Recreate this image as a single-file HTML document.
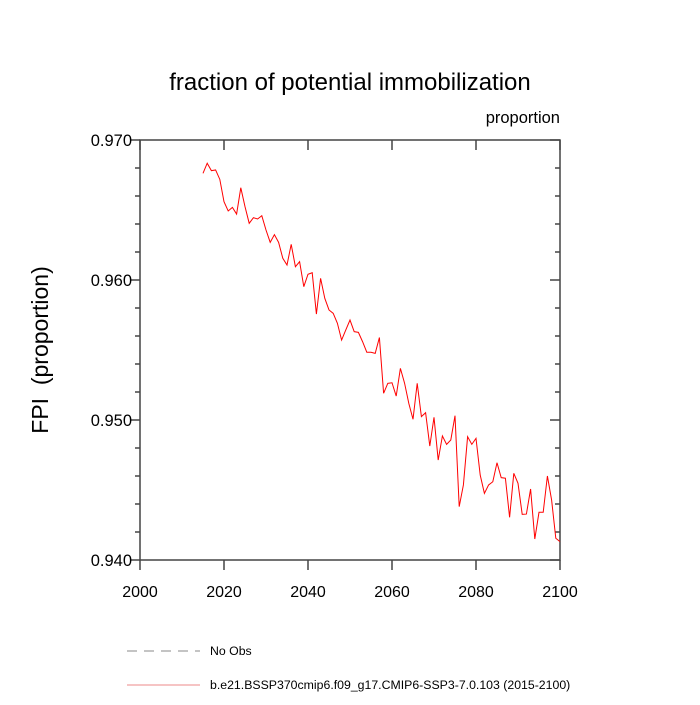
<!DOCTYPE html>
<html><head><meta charset="utf-8"><style>
body{margin:0;background:#fff;font-family:"Liberation Sans",sans-serif}
</style></head><body>
<svg width="700" height="700" xmlns="http://www.w3.org/2000/svg" font-family="Liberation Sans, sans-serif">
<text x="350" y="90" text-anchor="middle" font-size="24">fraction of potential immobilization</text>
<text x="560" y="123" text-anchor="end" font-size="16.5">proportion</text>
<text transform="translate(48,350) rotate(-90)" text-anchor="middle" font-size="23">FPI &#160;(proportion)</text>
<g id="axes"></g>
<g id="series"></g>
<line x1="127" y1="651" x2="200" y2="651" stroke="#888" stroke-dasharray="10,7"/>
<text x="210" y="655" font-size="12.3">No Obs</text>
<line x1="127" y1="685" x2="200" y2="685" stroke="#e88"/>
<text x="210" y="689" font-size="12.3">b.e21.BSSP370cmip6.f09_g17.CMIP6-SSP3-7.0.103 (2015-2100)</text>
</svg>
<script>
const xTicks=[2000,2020,2040,2060,2080,2100];
const yTicks=[0.940,0.950,0.960,0.970];
const yTickLabels=["0.940","0.950","0.960","0.970"];
const years=[];for(let y=2015;y<=2100;y++)years.push(y);
const values=[0.96762,0.96834,0.96781,0.96786,0.96719,0.96559,0.96493,0.96519,0.96471,0.96659,
0.96524,0.96405,0.96445,0.96436,0.96459,0.96357,0.96269,0.96324,0.96269,0.96155,
0.96107,0.96255,0.96095,0.96131,0.95952,0.96041,0.96052,0.95757,0.96012,0.95869,
0.95786,0.95762,0.95691,0.95571,0.95643,0.95714,0.95631,0.95626,0.95559,0.95484,
0.95484,0.95476,0.95589,0.95191,0.95262,0.95266,0.95171,0.95369,0.95262,0.95119,
0.95005,0.95262,0.95024,0.95052,0.94814,0.95019,0.94714,0.94886,0.94826,0.94857,
0.95031,0.94381,0.94536,0.94881,0.94826,0.94869,0.94607,0.94476,0.94536,0.94559,
0.94695,0.94588,0.94584,0.94305,0.94619,0.94548,0.94326,0.94328,0.94507,0.9415,
0.94341,0.94341,0.946,0.94429,0.94155,0.94131];
const X0=140,X1=560,Y0=560,Y1=140;
const xs=v=>X0+(v-2000)/100*(X1-X0);
const ys=v=>Y0-(v-0.940)/0.030*(Y0-Y1);
const NS="http://www.w3.org/2000/svg";
const ax=document.getElementById('axes');
function mk(t,a,p){const e=document.createElementNS(NS,t);for(const k in a)e.setAttribute(k,a[k]);(p||ax).appendChild(e);return e;}
const fr=mk('rect',{x:X0,y:Y1,width:X1-X0,height:Y0-Y1,fill:'none',stroke:'#444','stroke-width':1.5});


xTicks.forEach(t=>{const x=xs(t);
 const l=mk('line',{x1:x,y1:Y0,x2:x,y2:Y0+10,stroke:'#444','stroke-width':1.5});
 
 
 mk('line',{x1:x,y1:Y1,x2:x,y2:Y1+10,stroke:'#444','stroke-width':1.5});
 const tx=mk('text',{x:x,y:Y0+37,'text-anchor':'middle','font-size':16});tx.textContent=t;
 
 
});
for(let v=0.940;v<=0.9701;v+=0.002){const y=ys(v);const major=Math.abs(Math.round(v*100)-v*100)<1e-6;
 const len=major?10:5;
 mk('line',{x1:X0,y1:y,x2:X0-len,y2:y,stroke:'#444','stroke-width':1.5});
 mk('line',{x1:X1,y1:y,x2:X1-len,y2:y,stroke:'#444','stroke-width':1.5});
}
yTicks.forEach((t,i)=>{const tx=mk('text',{x:X0-8,y:ys(t)+6,'text-anchor':'end','font-size':16.5});tx.textContent=yTickLabels[i];
 
 
});
const pl=mk('polyline',{points:years.map((y,i)=>xs(y)+','+ys(values[i])).join(' '),fill:'none',stroke:'#f00','stroke-width':1},document.getElementById('series'));


</script>
</body></html>
